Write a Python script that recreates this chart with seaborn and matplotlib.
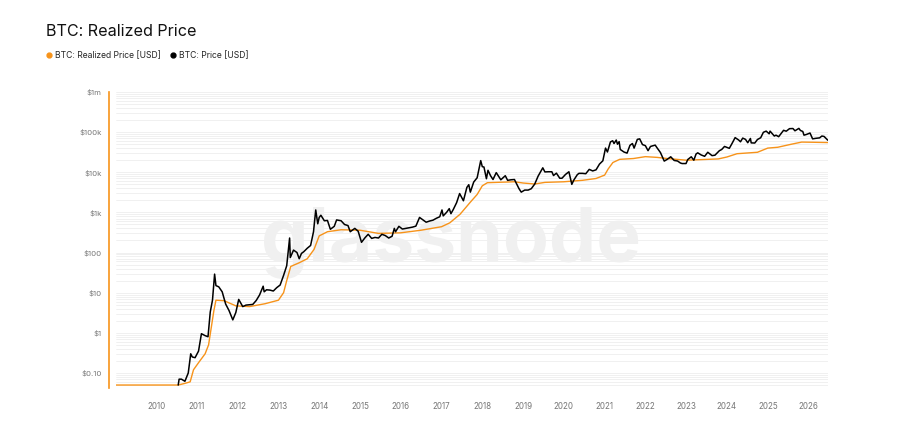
# %%
import matplotlib
matplotlib.use("Agg")
import matplotlib.pyplot as plt
import matplotlib.dates as mdates
from matplotlib.lines import Line2D
from matplotlib.ticker import FuncFormatter, LogLocator
import seaborn as sns
import pandas as pd

# %%
price_dates = [
  "2010-07-17", "2010-07-25", "2010-08-15", "2010-09-15", "2010-10-15", "2010-11-06",
  "2010-11-20", "2010-12-15", "2011-01-15", "2011-02-10", "2011-03-15", "2011-04-10",
  "2011-04-30", "2011-05-20", "2011-06-08", "2011-06-20", "2011-07-15", "2011-08-15",
  "2011-09-15", "2011-10-15", "2011-11-18", "2011-12-15", "2012-01-10", "2012-02-15",
  "2012-03-15", "2012-04-15", "2012-05-15", "2012-06-15", "2012-07-15", "2012-08-16",
  "2012-08-25", "2012-09-15", "2012-10-15", "2012-11-15", "2012-12-15", "2013-01-15",
  "2013-02-15", "2013-03-15", "2013-04-10", "2013-04-16", "2013-05-15", "2013-06-15",
  "2013-07-05", "2013-07-25", "2013-08-15", "2013-09-15", "2013-10-15", "2013-11-10",
  "2013-11-30", "2013-12-18", "2013-12-31", "2014-01-15", "2014-02-15", "2014-03-15",
  "2014-04-10", "2014-05-15", "2014-06-05", "2014-07-15", "2014-08-15", "2014-09-15",
  "2014-10-05", "2014-11-15", "2014-12-15", "2015-01-14", "2015-02-15", "2015-03-15",
  "2015-04-15", "2015-05-15", "2015-06-15", "2015-07-15", "2015-08-15", "2015-09-15",
  "2015-10-15", "2015-11-04", "2015-11-15", "2015-12-15", "2016-01-15", "2016-02-15",
  "2016-03-15", "2016-04-15", "2016-05-15", "2016-06-17", "2016-07-15", "2016-08-15",
  "2016-09-15", "2016-10-15", "2016-11-15", "2016-12-15", "2017-01-04", "2017-01-15",
  "2017-02-15", "2017-03-10", "2017-03-25", "2017-04-15", "2017-05-15", "2017-06-11",
  "2017-07-15", "2017-08-15", "2017-09-01", "2017-09-15", "2017-10-15", "2017-11-15",
  "2017-12-17", "2017-12-31", "2018-01-15", "2018-02-06", "2018-02-20", "2018-03-15",
  "2018-04-06", "2018-05-05", "2018-06-15", "2018-07-25", "2018-08-15", "2018-09-15",
  "2018-10-15", "2018-11-25", "2018-12-15", "2019-01-15", "2019-02-15", "2019-03-15",
  "2019-04-15", "2019-05-15", "2019-06-26", "2019-07-15", "2019-08-15", "2019-09-15",
  "2019-09-30", "2019-10-26", "2019-11-25", "2019-12-15", "2020-01-15", "2020-02-15",
  "2020-03-12", "2020-03-30", "2020-04-30", "2020-05-15", "2020-06-15", "2020-07-15",
  "2020-08-15", "2020-09-15", "2020-10-15", "2020-11-15", "2020-12-15", "2021-01-08",
  "2021-01-25", "2021-02-21", "2021-03-13", "2021-03-25", "2021-04-14", "2021-04-25",
  "2021-05-10", "2021-05-20", "2021-06-22", "2021-07-20", "2021-08-15", "2021-09-06",
  "2021-09-21", "2021-10-20", "2021-11-10", "2021-12-05", "2021-12-31", "2022-01-24",
  "2022-02-15", "2022-03-29", "2022-04-15", "2022-05-15", "2022-06-18", "2022-07-15",
  "2022-08-15", "2022-09-15", "2022-10-15", "2022-11-10", "2022-11-25", "2022-12-30",
  "2023-01-15", "2023-02-15", "2023-03-10", "2023-03-30", "2023-04-14", "2023-05-15",
  "2023-06-15", "2023-07-13", "2023-08-20", "2023-09-15", "2023-10-25", "2023-11-15",
  "2023-12-10", "2024-01-22", "2024-02-15", "2024-03-14", "2024-04-15", "2024-05-01",
  "2024-05-21", "2024-06-15", "2024-07-05", "2024-07-29", "2024-08-05", "2024-09-06",
  "2024-09-30", "2024-10-29", "2024-11-22", "2024-12-17", "2025-01-13", "2025-01-21",
  "2025-02-28", "2025-03-15", "2025-04-08", "2025-05-22", "2025-06-15", "2025-07-14",
  "2025-08-14", "2025-09-01", "2025-10-06", "2025-10-20", "2025-11-10", "2025-11-21",
  "2025-12-15", "2026-01-14", "2026-02-06", "2026-03-05", "2026-04-10", "2026-04-30",
  "2026-05-20", "2026-06-10", "2026-06-22",
]
price_values = [
  0.05, 0.07, 0.07, 0.062, 0.10, 0.30,
  0.25, 0.24, 0.35, 0.95, 0.85, 0.80,
  3.3, 6.5, 29.0, 15.0, 14.0, 10.5,
  5.2, 3.6, 2.1, 3.2, 6.8, 4.5,
  4.9, 5.0, 5.1, 6.4, 8.8, 14.5,
  10.5, 11.8, 11.6, 11.0, 13.3, 15.5,
  27.0, 47.0, 230, 75, 115, 100,
  70, 95, 105, 128, 150, 330,
  1150, 520, 750, 850, 620, 630,
  380, 450, 650, 620, 500, 470,
  330, 400, 340, 180, 235, 285,
  225, 238, 230, 285, 265, 230,
  255, 400, 330, 450, 385, 400,
  415, 430, 455, 750, 660, 570,
  610, 640, 715, 780, 1150, 820,
  1010, 1240, 930, 1180, 1750, 2950,
  1950, 4200, 4900, 3200, 5700, 7300,
  19500, 13800, 13500, 6900, 11200, 8200,
  6600, 9800, 6500, 8200, 6300, 6500,
  6600, 3900, 3200, 3600, 3600, 3900,
  5100, 8000, 12900, 10200, 10300, 10300,
  8300, 9500, 7100, 7100, 8800, 10300,
  5000, 6400, 8700, 9400, 9400, 9200,
  11800, 10800, 11500, 16000, 19300, 40000,
  32000, 57000, 61000, 52000, 63500, 50000,
  58000, 37000, 32000, 30000, 47000, 52000,
  40000, 66000, 68000, 49000, 46000, 34500,
  44000, 47500, 40500, 31000, 19000, 21000,
  24300, 19700, 19100, 17000, 16500, 16500,
  20800, 24300, 20000, 28500, 30500, 27000,
  25000, 31500, 26000, 26600, 34500, 37000,
  44000, 39500, 52000, 73000, 63500, 57500,
  71000, 66000, 54500, 69500, 54000, 53500,
  65500, 72500, 99000, 106000, 91000, 106000,
  80000, 84000, 77000, 111000, 105500, 122000,
  123000, 108000, 124000, 110000, 104000, 84000,
  88000, 95000, 68000, 70000, 72000, 80000,
  78000, 68000, 63000,
]

realized_dates = [
  "2009-01-03", "2010-07-17", "2010-09-15", "2010-11-01", "2010-12-01", "2011-01-15",
  "2011-03-15", "2011-04-15", "2011-05-10", "2011-06-01", "2011-06-20", "2011-09-01",
  "2011-12-15", "2012-04-15", "2012-09-01", "2012-12-31", "2013-02-15", "2013-03-15",
  "2013-04-20", "2013-07-01", "2013-09-15", "2013-11-15", "2013-12-31", "2014-03-15",
  "2014-07-15", "2014-12-31", "2015-06-15", "2015-12-31", "2016-06-30", "2016-12-31",
  "2017-03-15", "2017-06-15", "2017-09-15", "2017-11-15", "2017-12-31", "2018-02-15",
  "2018-10-15", "2018-12-31", "2019-04-15", "2019-07-15", "2019-12-31", "2020-06-15",
  "2020-10-15", "2020-12-31", "2021-01-31", "2021-03-15", "2021-05-15", "2021-09-15",
  "2021-12-31", "2022-04-15", "2022-07-15", "2022-12-31", "2023-04-15", "2023-10-15",
  "2023-12-31", "2024-03-31", "2024-09-30", "2024-12-31", "2025-03-31", "2025-07-31",
  "2025-10-31", "2026-01-31", "2026-06-22",
]
realized_values = [
  0.05, 0.05, 0.055, 0.06, 0.12, 0.18,
  0.3, 0.5, 1.4, 3.5, 6.5, 6.3,
  4.7, 4.5, 5.3, 6.5, 10, 20,
  45, 55, 70, 120, 260, 330,
  370, 360, 300, 310, 360, 440,
  550, 900, 1800, 2800, 4600, 5500,
  5800, 5400, 5100, 5600, 5800, 6300,
  7000, 8500, 12000, 17500, 21000, 22000,
  24500, 23500, 22000, 20000, 20500, 21500,
  24000, 29000, 31500, 40000, 42000, 50000,
  56500, 56000, 55000,
]

year_ticks = list(range(2010, 2027))
y_ticks = [0.1, 1, 10, 100, 1e3, 1e4, 1e5, 1e6]
y_labels = ["$0.10", "$1", "$10", "$100", "$1k", "$10k", "$100k", "$1m"]

price_df = pd.DataFrame({"date": pd.to_datetime(price_dates), "value": price_values})
realized_df = pd.DataFrame({"date": pd.to_datetime(realized_dates), "value": realized_values})

# %%
sns.set_theme(style="white")
plt.rcParams["font.family"] = ["Inter", "DejaVu Sans"]
orange = "#f7931a"

fig = plt.figure(figsize=(9.02, 4.33), dpi=100)
ax = fig.add_axes([115.7 / 902, 1 - 388 / 433, (828 - 115.7) / 902, (388 - 92) / 433])

# watermark
ax.text(
  0.5, 1 - 262 / 433, "glassnode",
  transform=fig.transFigure, ha="center", va="baseline",
  fontsize=54, fontweight="bold", color="#f0f0f0", zorder=1,
)

sns.lineplot(
  data=realized_df, x="date", y="value", ax=ax,
  color=orange, linewidth=1.0, estimator=None, sort=False, zorder=3,
)
sns.lineplot(
  data=price_df, x="date", y="value", ax=ax,
  color="black", linewidth=1.1, estimator=None, sort=False, zorder=4,
)

ax.set_yscale("log")
ax.set_ylim(10 ** -1.375, 1e6)
ax.set_xlim(pd.Timestamp("2009-01-03"), pd.Timestamp("2026-06-24"))
ax.set_yticks(y_ticks)
ax.set_yticklabels(y_labels)
ax.yaxis.set_minor_locator(LogLocator(base=10, subs=range(2, 10)))
ax.yaxis.set_minor_formatter(FuncFormatter(lambda v, p: ""))
ax.grid(axis="y", which="both", color="#eeeeee", linewidth=0.6, zorder=0)
ax.set_axisbelow(True)

ax.set_xticks([pd.Timestamp(f"{y}-01-01") for y in year_ticks])
ax.xaxis.set_major_formatter(mdates.DateFormatter("%Y"))
ax.set_xlabel("")
ax.set_ylabel("")

for s in ["top", "right", "bottom"]:
  ax.spines[s].set_visible(False)
ax.spines["left"].set_color(orange)
ax.spines["left"].set_linewidth(1.2)
ax.spines["left"].set_position(("outward", 5))

ax.tick_params(axis="y", which="both", length=0, pad=5, labelsize=5.6, labelcolor="#777777")
ax.tick_params(axis="x", length=4, width=0.6, color="#e2e2e2", pad=6, labelsize=5.8, labelcolor="#777777")

fig.text(46 / 902, 1 - 31 / 433, "BTC: Realized Price", fontsize=11.6, va="center", ha="left", color="#111111")

handles = [
  Line2D([], [], marker="o", ls="", color=orange, markersize=3.5),
  Line2D([], [], marker="o", ls="", color="black", markersize=3.5),
]
fig.legend(
  handles, ["BTC: Realized Price [USD]", "BTC: Price [USD]"],
  loc="center left", bbox_to_anchor=(46 / 902, 1 - 56 / 433),
  ncol=2, frameon=False, fontsize=6.2,
  handlelength=0.6, handletextpad=0.4, columnspacing=1.1, borderpad=0, borderaxespad=0,
)

plt.savefig("out.png", dpi=100)
